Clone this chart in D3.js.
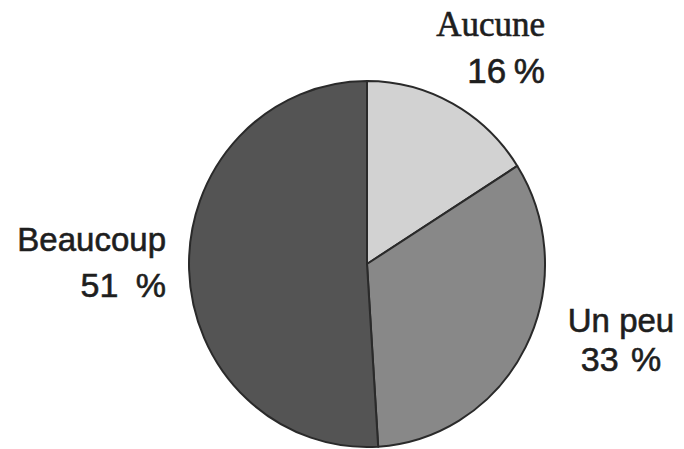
<!DOCTYPE html>
<html>
<head>
<meta charset="utf-8">
<script src="https://cdn.jsdelivr.net/npm/d3@7"></script>
<style>
  html, body { margin: 0; padding: 0; background: #fff; }
  svg { display: block; }
</style>
</head>
<body>
<svg id="chart" width="684" height="449"></svg>
<script>
const categories = ["Aucune", "Un peu", "Beaucoup"];
const values = [16, 33, 51];
const valueLabels = ["16 %", "33 %", "51 %"];
const colors = ["#d2d2d2", "#888888", "#545454"];

// label layout (pixel positions, separate from data)
const labelLayout = [
  { x: 545, y1: 36, y2: 83, anchor: "end", font1: "Liberation Serif, Times New Roman, serif", size1: 35, ws: -2, size2: 35 },
  { x: 621, y1: 332, y2: 371, anchor: "middle", font1: "Liberation Sans, Arial, sans-serif", size1: 33, ws: 3, size2: 34 },
  { x: 166, y1: 251, y2: 297, anchor: "end", font1: "Liberation Sans, Arial, sans-serif", size1: 33, ws: 8, size2: 34 }
];

const svg = d3.select("#chart");
const cx = 367, cy = 264, rx = 178, ry = 183;

const pie = d3.pie().sort(null).value(d => d.value);
const arc = d3.arc().innerRadius(0).outerRadius(rx);
const data = categories.map((c, i) => ({ cat: c, value: values[i], i }));

const g = svg.append("g")
  .attr("transform", `translate(${cx},${cy}) scale(1,${ry / rx})`);

g.selectAll("path")
  .data(pie(data))
  .join("path")
  .attr("d", arc)
  .attr("fill", d => colors[d.data.i])
  .attr("stroke", "#2a2a2a")
  .attr("stroke-width", 2)
  .attr("vector-effect", "non-scaling-stroke")
  .attr("stroke-linejoin", "round");

const labels = svg.append("g");
data.forEach((d, i) => {
  const L = labelLayout[i];
  labels.append("text")
    .attr("x", L.x).attr("y", L.y1)
    .attr("text-anchor", L.anchor)
    .attr("font-family", L.font1)
    .attr("font-size", L.size1)
    .attr("fill", "#1e1e1e")
    .attr("stroke", "#1e1e1e")
    .attr("stroke-width", 0.6)
    .text(d.cat);
  labels.append("text")
    .attr("x", L.x).attr("y", L.y2)
    .attr("text-anchor", L.anchor)
    .attr("font-family", "Liberation Sans, Arial, sans-serif")
    .attr("font-size", L.size2)
    .attr("fill", "#1e1e1e")
    .attr("stroke", "#1e1e1e")
    .attr("stroke-width", 0.6)
    .style("word-spacing", L.ws + "px")
    .text(valueLabels[i]);
});
</script>
</body>
</html>
